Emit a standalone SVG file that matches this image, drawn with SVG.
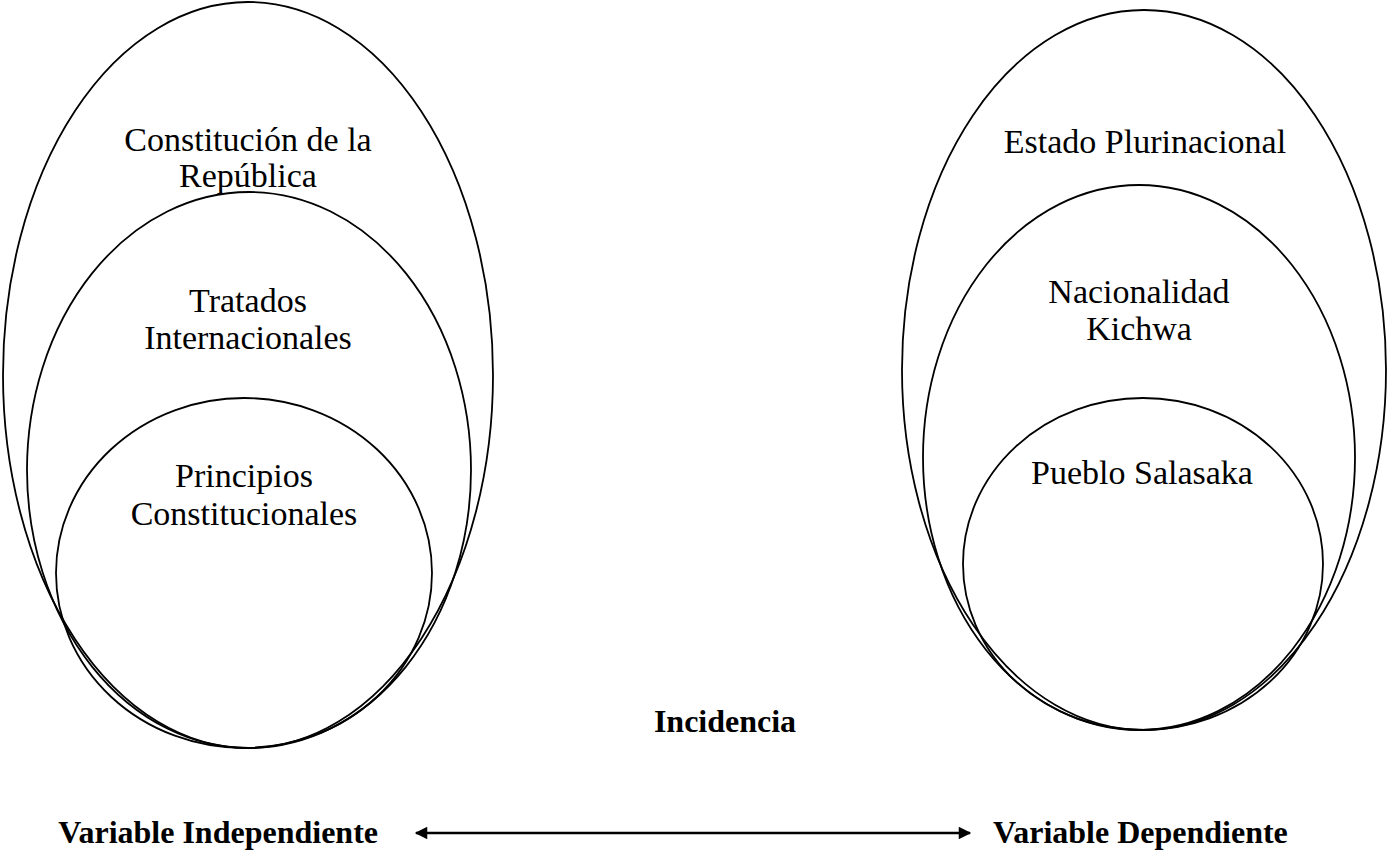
<svg xmlns="http://www.w3.org/2000/svg" width="1388" height="850" viewBox="0 0 1388 850">
  <style>
    .shape { fill: none; stroke: #000; stroke-width: 1.8; }
    .lbl { font-family: "Liberation Serif", "Times New Roman", serif; font-size: 34px; fill: #000; text-anchor: middle; }
    .bold { font-family: "Liberation Serif", "Times New Roman", serif; font-size: 32px; font-weight: bold; fill: #000; }
    .conn { stroke: #000; stroke-width: 2.5; fill: none; }
  </style>
  <defs>
    <marker id="ah" viewBox="0 0 10 10" refX="9" refY="5" markerWidth="6" markerHeight="5" markerUnits="strokeWidth" orient="auto-start-reverse">
      <path d="M0,0 L10,5 L0,10 z" fill="#000"/>
    </marker>
  </defs>
  <rect width="1388" height="850" fill="#fff"/>

  <g id="constitucion">
    <ellipse class="shape" cx="248" cy="375" rx="245" ry="373"/>
    <text class="lbl" x="248" y="151">Constitución de la</text>
    <text class="lbl" x="248" y="187">República</text>
  </g>
  <g id="tratados">
    <ellipse class="shape" cx="249" cy="470" rx="222" ry="278"/>
    <text class="lbl" x="248" y="312">Tratados</text>
    <text class="lbl" x="248" y="349">Internacionales</text>
  </g>
  <g id="principios">
    <ellipse class="shape" cx="244" cy="573" rx="188" ry="175"/>
    <text class="lbl" x="244" y="487">Principios</text>
    <text class="lbl" x="244" y="525">Constitucionales</text>
  </g>

  <g id="estado">
    <ellipse class="shape" cx="1144" cy="370" rx="242" ry="360"/>
    <text class="lbl" x="1145" y="153">Estado Plurinacional</text>
  </g>
  <g id="nacionalidad">
    <ellipse class="shape" cx="1139" cy="457.5" rx="216" ry="272.5"/>
    <text class="lbl" x="1139" y="303">Nacionalidad</text>
    <text class="lbl" x="1139" y="340">Kichwa</text>
  </g>
  <g id="pueblo">
    <ellipse class="shape" cx="1143" cy="564" rx="180" ry="166"/>
    <text class="lbl" x="1142" y="484">Pueblo Salasaka</text>
  </g>

  <g id="incidencia">
    <text class="bold" x="725" y="732" text-anchor="middle">Incidencia</text>
  </g>
  <g id="var-independiente">
    <text class="bold" x="378" y="843" text-anchor="end">Variable Independiente</text>
  </g>
  <g id="var-dependiente">
    <text class="bold" x="993" y="843">Variable Dependiente</text>
  </g>

  <g id="connectors">
    <line class="conn" x1="416" y1="833" x2="970" y2="833" marker-start="url(#ah)" marker-end="url(#ah)"/>
  </g>
</svg>
